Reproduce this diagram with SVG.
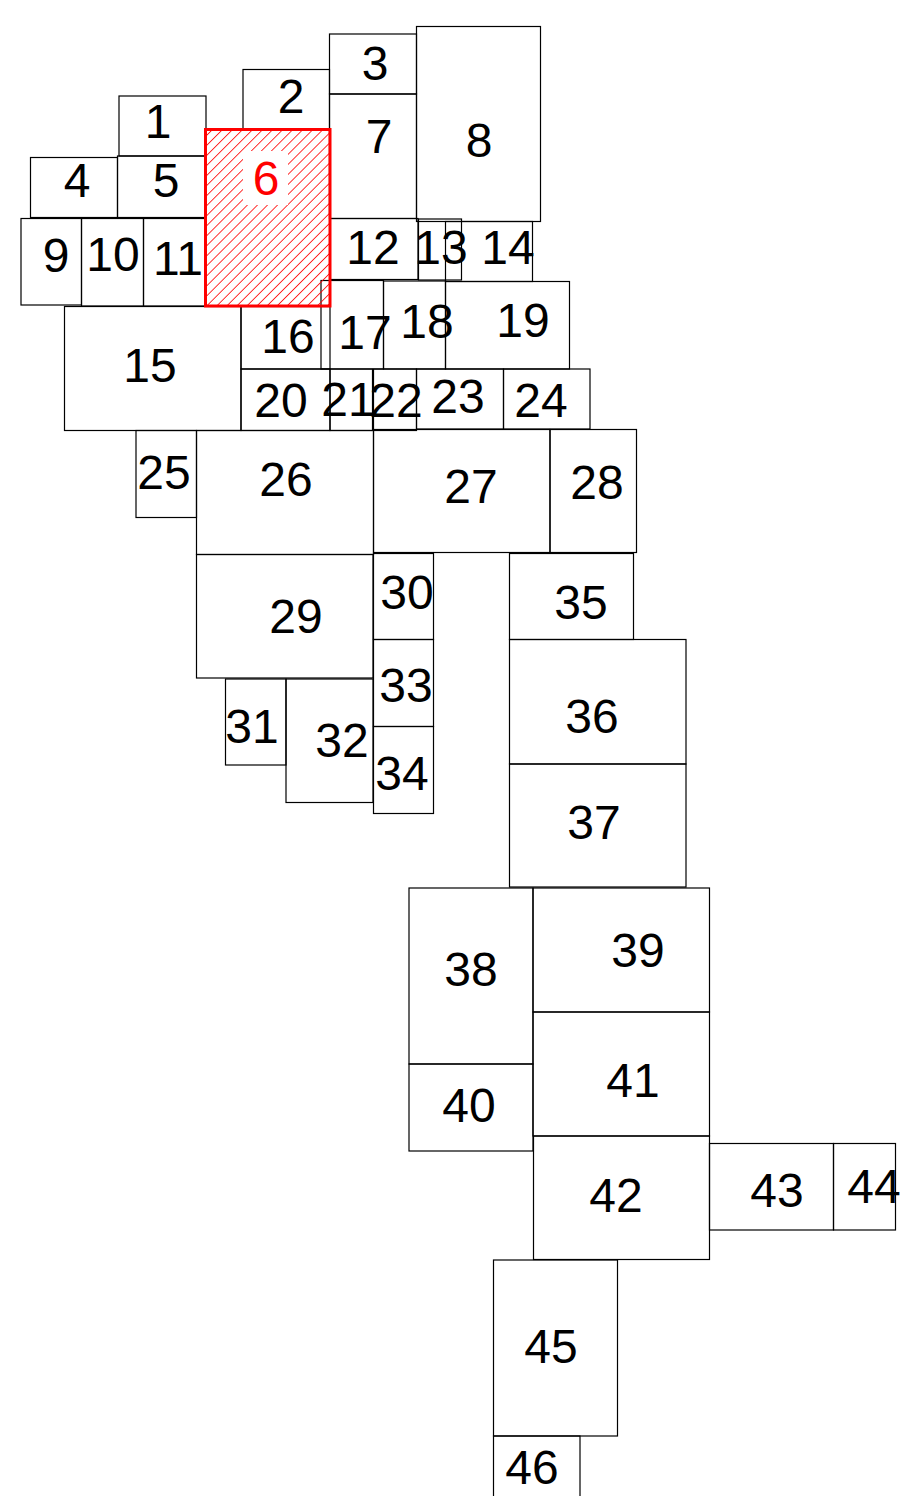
<svg xmlns="http://www.w3.org/2000/svg" width="912" height="1496" viewBox="0 0 912 1496">
<style>
.b{fill:none;stroke:#000;stroke-width:1.2}
.t{font-family:"Liberation Sans",Arial,sans-serif;font-size:48px;fill:#000;text-anchor:middle}
.h{fill:url(#hatch);stroke:#f00;stroke-width:3}
.ht{font-family:"Liberation Sans",Arial,sans-serif;font-size:48px;fill:#f00;text-anchor:middle}
</style>
<defs>
<pattern id="hatch" patternUnits="userSpaceOnUse" width="7.1" height="7.1" patternTransform="rotate(45)">
<line x1="0" y1="0" x2="0" y2="7.1" stroke="#f00" stroke-width="1.6"/>
</pattern>
</defs>
<rect width="912" height="1496" fill="#fff"/>
<g id="connectors"/>
<g id="n1"><rect class="b" x="119" y="96" width="87" height="60"/><text class="t" x="158" y="138">1</text></g>
<g id="n2"><rect class="b" x="243" y="69.5" width="86.5" height="60"/><text class="t" x="291" y="113">2</text></g>
<g id="n3"><rect class="b" x="329.5" y="34" width="87" height="60"/><text class="t" x="375" y="80">3</text></g>
<g id="n4"><rect class="b" x="30.5" y="157.5" width="87" height="60"/><text class="t" x="77" y="197">4</text></g>
<g id="n5"><rect class="b" x="117.5" y="156" width="88" height="61.5"/><text class="t" x="166" y="197">5</text></g>
<g id="n7"><rect class="b" x="329.5" y="94" width="87" height="124.5"/><text class="t" x="379" y="153">7</text></g>
<g id="n8"><rect class="b" x="416.5" y="26.5" width="124" height="195"/><text class="t" x="479" y="157">8</text></g>
<g id="n9"><rect class="b" x="21" y="218.5" width="60.5" height="86.5"/><text class="t" x="56" y="272">9</text></g>
<g id="n10"><rect class="b" x="81.5" y="218.5" width="62" height="87.5"/><text class="t" x="113" y="271">10</text></g>
<g id="n11"><rect class="b" x="143.5" y="218.5" width="62" height="87.5"/><text class="t" x="178" y="275">11</text></g>
<g id="n12"><rect class="b" x="330" y="218.5" width="88" height="61"/><text class="t" x="373" y="264">12</text></g>
<g id="n13"><rect class="b" x="418.5" y="219" width="43" height="61"/><text class="t" x="441" y="264">13</text></g>
<g id="n14"><rect class="b" x="445.5" y="221.5" width="87" height="60"/><text class="t" x="508" y="264">14</text></g>
<g id="n15"><rect class="b" x="64.5" y="306.5" width="176.5" height="124"/><text class="t" x="150" y="382">15</text></g>
<g id="n16"><rect class="b" x="241" y="306.5" width="89" height="62.5"/><text class="t" x="288" y="353">16</text></g>
<g id="n17"><rect class="b" x="321" y="280.5" width="62.5" height="88.5"/><text class="t" x="365" y="349">17</text></g>
<g id="n18"><rect class="b" x="383.5" y="281" width="62" height="88"/><text class="t" x="427" y="338">18</text></g>
<g id="n19"><rect class="b" x="445.5" y="281.5" width="124" height="87.5"/><text class="t" x="523" y="337">19</text></g>
<g id="n20"><rect class="b" x="241" y="369" width="89" height="61.5"/><text class="t" x="281" y="417">20</text></g>
<g id="n21"><rect class="b" x="330" y="369" width="42.5" height="61.5"/><text class="t" x="348" y="416">21</text></g>
<g id="n22"><rect class="b" x="373.5" y="369" width="43" height="61.5"/><text class="t" x="396" y="417">22</text></g>
<g id="n23"><rect class="b" x="416.5" y="369" width="87" height="60"/><text class="t" x="458" y="413">23</text></g>
<g id="n24"><rect class="b" x="503.5" y="369" width="86.5" height="60"/><text class="t" x="541" y="417">24</text></g>
<g id="n25"><rect class="b" x="136" y="430.5" width="60.5" height="87"/><text class="t" x="164" y="489">25</text></g>
<g id="n26"><rect class="b" x="196.5" y="430.5" width="177" height="124"/><text class="t" x="286" y="496">26</text></g>
<g id="n27"><rect class="b" x="373.5" y="429.5" width="176.5" height="123"/><text class="t" x="471" y="503">27</text></g>
<g id="n28"><rect class="b" x="550" y="429.5" width="86.5" height="123"/><text class="t" x="597" y="499">28</text></g>
<g id="n29"><rect class="b" x="196.5" y="554.5" width="176.5" height="123.5"/><text class="t" x="296" y="633">29</text></g>
<g id="n30"><rect class="b" x="373.5" y="553.5" width="60" height="86"/><text class="t" x="407" y="609">30</text></g>
<g id="n31"><rect class="b" x="225.5" y="679" width="60.5" height="86"/><text class="t" x="252" y="743">31</text></g>
<g id="n32"><rect class="b" x="286" y="679" width="87" height="123.5"/><text class="t" x="342" y="757">32</text></g>
<g id="n33"><rect class="b" x="373.5" y="639.5" width="60" height="87"/><text class="t" x="406" y="702">33</text></g>
<g id="n34"><rect class="b" x="373.5" y="726.5" width="60" height="87"/><text class="t" x="402" y="790">34</text></g>
<g id="n35"><rect class="b" x="509.5" y="553.5" width="124" height="86"/><text class="t" x="581" y="619">35</text></g>
<g id="n36"><rect class="b" x="509.5" y="639.5" width="176.5" height="124.5"/><text class="t" x="592" y="733">36</text></g>
<g id="n37"><rect class="b" x="509.5" y="764" width="176.5" height="123"/><text class="t" x="594" y="839">37</text></g>
<g id="n38"><rect class="b" x="409" y="888" width="124" height="176"/><text class="t" x="471" y="986">38</text></g>
<g id="n39"><rect class="b" x="533" y="888" width="176.5" height="124"/><text class="t" x="638" y="967">39</text></g>
<g id="n40"><rect class="b" x="409" y="1064" width="124" height="87"/><text class="t" x="469" y="1122">40</text></g>
<g id="n41"><rect class="b" x="533" y="1012" width="176.5" height="124"/><text class="t" x="633" y="1097">41</text></g>
<g id="n42"><rect class="b" x="533.5" y="1136" width="176" height="123.5"/><text class="t" x="616" y="1212">42</text></g>
<g id="n43"><rect class="b" x="709.5" y="1143.5" width="124" height="86.5"/><text class="t" x="777" y="1207">43</text></g>
<g id="n44"><rect class="b" x="833.5" y="1143.5" width="62" height="86.5"/><text class="t" x="874" y="1203">44</text></g>
<g id="n45"><rect class="b" x="493.5" y="1260" width="124" height="176"/><text class="t" x="551" y="1363">45</text></g>
<g id="n46"><rect class="b" x="493.5" y="1436" width="86.5" height="124"/><text class="t" x="532" y="1484">46</text></g>
<g id="n6"><rect class="h" x="205.5" y="129.5" width="124.5" height="176.5"/><rect x="243" y="151" width="45" height="54" fill="#fff"/><text class="ht" x="266" y="195">6</text></g>
</svg>
